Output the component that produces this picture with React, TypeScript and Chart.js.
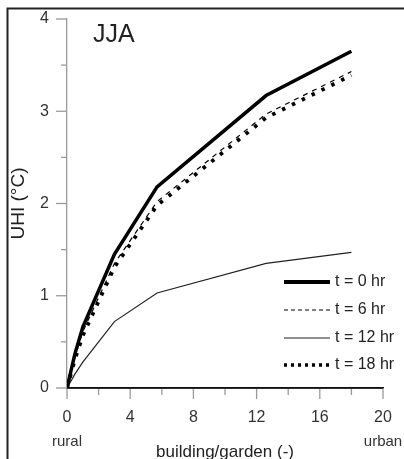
import { useEffect, useRef } from 'react';
import { Chart, registerables } from 'chart.js';

Chart.register(...registerables);

// ---- data ----
const ratio = [0, 0.5, 1, 3, 5.7, 12.6, 18];
const uhiT0 = [0, 0.37, 0.66, 1.45, 2.18, 3.17, 3.65];
const uhiT6 = [0, 0.33, 0.61, 1.35, 2.02, 2.97, 3.43];
const uhiT12 = [0, 0.15, 0.28, 0.72, 1.03, 1.35, 1.47];
const uhiT18 = [0, 0.31, 0.57, 1.31, 1.98, 2.93, 3.39];
const seriesLabels = ['t = 0 hr', 't = 6 hr', 't = 12 hr', 't = 18 hr'];
const xMajorTicks = [0, 4, 8, 12, 16, 20];
const xMinorTicks = [2, 6, 10, 14, 18];
const yMajorTicks = [0, 1, 2, 3, 4];
const yMinorTicks = [0.5, 1.5, 2.5, 3.5];
const panelLabel = 'JJA';
const xEndLabels = ['rural', 'urban'];
const xTitle = 'building/garden (-)';
const yTitle = 'UHI (°C)';

const FONT = "'Liberation Sans', Arial, sans-serif";

const toPoints = (ys: number[]) => ratio.map((x, i) => ({ x, y: ys[i] }));

const decorPlugin = {
  id: 'decor',
  afterDraw(chart: any) {
    const { ctx, scales } = chart;
    const xs = scales.x;
    const ys = scales.y;
    const ca = chart.chartArea;
    ctx.save();

    // y ticks (outside, left)
    ctx.strokeStyle = '#9a9a9a';
    ctx.lineWidth = 1.3;
    const drawY = (v: number, len: number) => {
      const py = ys.getPixelForValue(v);
      ctx.beginPath();
      ctx.moveTo(ca.left - len, py);
      ctx.lineTo(ca.left, py);
      ctx.stroke();
    };
    yMajorTicks.forEach((v) => drawY(v, 11));
    yMinorTicks.forEach((v) => drawY(v, 6));

    // x ticks (outside, down)
    const drawX = (v: number, len: number) => {
      const px = xs.getPixelForValue(v);
      ctx.beginPath();
      ctx.moveTo(px, ca.bottom);
      ctx.lineTo(px, ca.bottom + len);
      ctx.stroke();
    };
    xMajorTicks.forEach((v) => drawX(v, 11));
    xMinorTicks.forEach((v) => drawX(v, 7));

    // x axis line re-drawn on top (black)
    ctx.strokeStyle = '#111';
    ctx.lineWidth = 1.5;
    ctx.beginPath();
    ctx.moveTo(ca.left, ca.bottom);
    ctx.lineTo(xs.getPixelForValue(20), ca.bottom);
    ctx.stroke();

    // rural / urban
    ctx.fillStyle = '#333';
    ctx.font = `15px ${FONT}`;
    ctx.textAlign = 'center';
    ctx.textBaseline = 'middle';
    ctx.fillText(xEndLabels[0], xs.getPixelForValue(0), 442);
    ctx.fillText(xEndLabels[1], xs.getPixelForValue(20), 442);

    // panel label
    ctx.fillStyle = '#222';
    ctx.font = `25px ${FONT}`;
    ctx.textAlign = 'left';
    ctx.fillText(panelLabel, 93, 35);

    // legend
    const ds = chart.data.datasets;
    const legendY = [282, 310, 338, 365];
    const legendDash = [[], [4, 3], [], [3, 4]];
    ds.forEach((d: any, i: number) => {
      const y = legendY[i];
      ctx.strokeStyle = d.borderColor;
      ctx.lineWidth = i === 0 ? 4 : i === 3 ? 3.5 : d.borderWidth;
      ctx.setLineDash(legendDash[i]);
      ctx.beginPath();
      ctx.moveTo(284, y);
      ctx.lineTo(330, y);
      ctx.stroke();
      ctx.setLineDash([]);
      ctx.fillStyle = '#222';
      ctx.font = `16px ${FONT}`;
      ctx.textAlign = 'left';
      ctx.textBaseline = 'middle';
      ctx.fillText(d.label, 335, y);
    });

    // frame
    ctx.strokeStyle = '#222';
    ctx.lineWidth = 2;
    ctx.beginPath();
    ctx.moveTo(7.5, chart.height);
    ctx.lineTo(7.5, 8.5);
    ctx.lineTo(chart.width, 8.5);
    ctx.stroke();

    ctx.restore();
  },
};

const zeroPad = (s: any) => {
  s.paddingTop = 0;
  s.paddingBottom = 0;
  s.paddingLeft = 0;
  s.paddingRight = 0;
};

export default function App() {
  const ref = useRef<HTMLCanvasElement | null>(null);

  useEffect(() => {
    const canvas = ref.current;
    if (!canvas) return;
    document.body.style.margin = '0';
    const chart = new Chart(canvas, {
      type: 'line',
      data: {
        datasets: [
          {
            label: seriesLabels[0],
            data: toPoints(uhiT0),
            borderColor: '#000',
            borderWidth: 3.5,
            pointRadius: 0,
          },
          {
            label: seriesLabels[1],
            data: toPoints(uhiT6),
            borderColor: '#000',
            borderWidth: 1.2,
            borderDash: [5, 5],
            pointRadius: 0,
          },
          {
            label: seriesLabels[2],
            data: toPoints(uhiT12),
            borderColor: '#222',
            borderWidth: 1.2,
            pointRadius: 0,
          },
          {
            label: seriesLabels[3],
            data: toPoints(uhiT18),
            borderColor: '#000',
            borderWidth: 3.8,
            borderDash: [3.5, 7.5],
            pointRadius: 0,
          },
        ],
      },
      options: {
        responsive: false,
        animation: false,
        devicePixelRatio: 1,
        layout: { padding: { left: 0, top: 19, right: 21, bottom: 0 } },
        plugins: {
          legend: { display: false },
          tooltip: { enabled: false },
        },
        scales: {
          x: {
            type: 'linear',
            min: 0,
            max: 20,
            afterFit: (s: any) => {
              s.height = 71;
              zeroPad(s);
            },
            afterBuildTicks: (s: any) => {
              s.ticks = xMajorTicks.map((v) => ({ value: v }));
            },
            grid: { display: false, drawTicks: false },
            border: { display: true, color: '#111', width: 1.5 },
            ticks: {
              padding: 20,
              color: '#333',
              font: { family: FONT, size: 16 },
              maxRotation: 0,
            },
            title: {
              display: true,
              text: xTitle,
              color: '#222',
              font: { family: FONT, size: 17, lineHeight: 0.8 },
              padding: 0,
            },
          },
          y: {
            type: 'linear',
            min: 0,
            max: 4,
            afterFit: (s: any) => {
              s.width = 67;
              zeroPad(s);
            },
            afterBuildTicks: (s: any) => {
              s.ticks = yMajorTicks.map((v) => ({ value: v }));
            },
            grid: { display: false, drawTicks: false },
            border: { display: true, color: '#9a9a9a', width: 1.3 },
            ticks: {
              padding: 18,
              color: '#333',
              font: { family: FONT, size: 16 },
            },
            title: {
              display: true,
              text: yTitle,
              color: '#222',
              font: { family: FONT, size: 19 },
              padding: { top: 7, bottom: 0 },
            },
          },
        },
      },
      plugins: [decorPlugin],
    } as any);
    return () => chart.destroy();
  }, []);

  return (
    <div style={{ position: 'absolute', left: 0, top: 0, width: 404, height: 459 }}>
      <canvas ref={ref} width={404} height={459} />
    </div>
  );
}
